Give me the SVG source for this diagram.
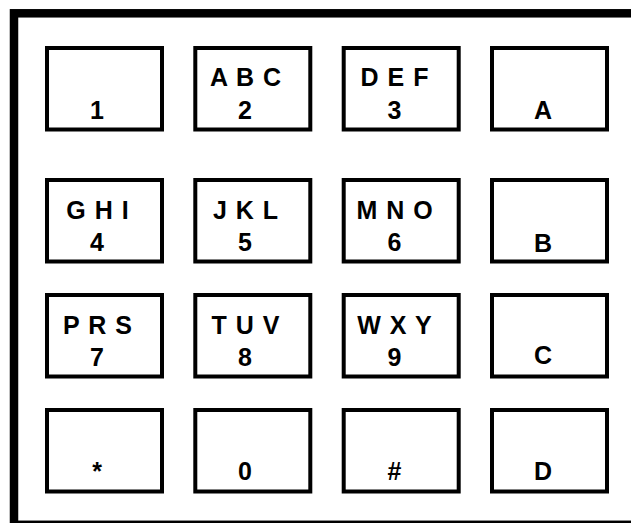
<svg xmlns="http://www.w3.org/2000/svg" width="631" height="523" viewBox="0 0 631 523">
<style>
.frame{fill:none;stroke:#000;stroke-width:8.5}
.key rect{fill:#fff;stroke:#000;stroke-width:4}
text{font-family:"Liberation Sans",Arial,sans-serif;font-weight:bold;font-size:25px;fill:#000;text-anchor:middle}
.l{letter-spacing:1px}
</style>
<rect width="631" height="523" fill="#fff"/>
<rect class="frame" x="14" y="13.3" width="640" height="511.5"/>
<g id="key-1" class="key"><rect x="47" y="48" width="115" height="81.5"/><text x="97" y="119">1</text></g>
<g id="key-2" class="key"><rect x="195.3" y="48" width="115" height="81.5"/><text class="l" x="246" y="86">A B C</text><text x="245" y="118.5">2</text></g>
<g id="key-3" class="key"><rect x="343.7" y="48" width="115" height="81.5"/><text class="l" x="395" y="86">D E F</text><text x="394.5" y="118.5">3</text></g>
<g id="key-A" class="key"><rect x="492" y="48" width="115" height="81.5"/><text x="543" y="119">A</text></g>
<g id="key-4" class="key"><rect x="47" y="180" width="115" height="81.5"/><text class="l" x="98" y="219">G H I</text><text x="97" y="251">4</text></g>
<g id="key-5" class="key"><rect x="195.3" y="180" width="115" height="81.5"/><text class="l" x="246" y="219">J K L</text><text x="245" y="251">5</text></g>
<g id="key-6" class="key"><rect x="343.7" y="180" width="115" height="81.5"/><text class="l" x="395" y="219">M N O</text><text x="394.5" y="251">6</text></g>
<g id="key-B" class="key"><rect x="492" y="180" width="115" height="81.5"/><text x="543" y="252">B</text></g>
<g id="key-7" class="key"><rect x="47" y="295" width="115" height="81.5"/><text class="l" x="98" y="334">P R S</text><text x="97" y="366">7</text></g>
<g id="key-8" class="key"><rect x="195.3" y="295" width="115" height="81.5"/><text class="l" x="246" y="334">T U V</text><text x="245" y="366">8</text></g>
<g id="key-9" class="key"><rect x="343.7" y="295" width="115" height="81.5"/><text class="l" x="395" y="334">W X Y</text><text x="394.5" y="366">9</text></g>
<g id="key-C" class="key"><rect x="492" y="295" width="115" height="81.5"/><text x="543" y="364">C</text></g>
<g id="key-star" class="key"><rect x="47" y="410" width="115" height="81.5"/><text x="97" y="480">*</text></g>
<g id="key-0" class="key"><rect x="195.3" y="410" width="115" height="81.5"/><text x="245" y="480">0</text></g>
<g id="key-hash" class="key"><rect x="343.7" y="410" width="115" height="81.5"/><text x="394.5" y="480">#</text></g>
<g id="key-D" class="key"><rect x="492" y="410" width="115" height="81.5"/><text x="543" y="480">D</text></g>
<g id="connectors"></g>
</svg>
